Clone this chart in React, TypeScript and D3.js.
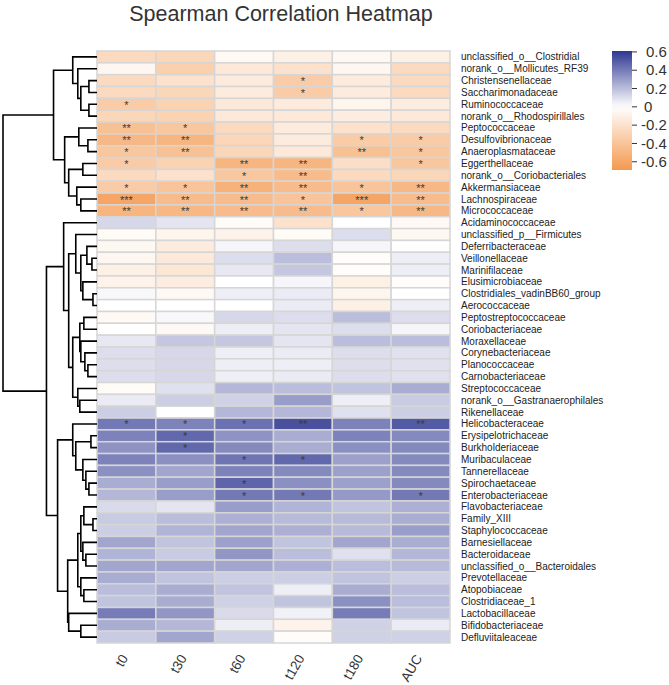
import React, { useEffect } from 'react';
import * as d3 from 'd3';

const columns = ['t0', 't30', 't60', 't120', 't180', 'AUC'];

const taxa = [
  'unclassified_o__Clostridial', 'norank_o__Mollicutes_RF39', 'Christensenellaceae',
  'Saccharimonadaceae', 'Ruminococcaceae', 'norank_o__Rhodospirillales', 'Peptococcaceae',
  'Desulfovibrionaceae', 'Anaeroplasmataceae', 'Eggerthellaceae', 'norank_o__Coriobacteriales',
  'Akkermansiaceae', 'Lachnospiraceae', 'Micrococcaceae', 'Acidaminococcaceae',
  'unclassified_p__Firmicutes', 'Deferribacteraceae', 'Veillonellaceae', 'Marinifilaceae',
  'Elusimicrobiaceae', 'Clostridiales_vadinBB60_group', 'Aerococcaceae', 'Peptostreptococcaceae',
  'Coriobacteriaceae', 'Moraxellaceae', 'Corynebacteriaceae', 'Planococcaceae',
  'Carnobacteriaceae', 'Streptococcaceae', 'norank_o__Gastranaerophilales', 'Rikenellaceae',
  'Helicobacteraceae', 'Erysipelotrichaceae', 'Burkholderiaceae', 'Muribaculaceae',
  'Tannerellaceae', 'Spirochaetaceae', 'Enterobacteriaceae', 'Flavobacteriaceae',
  'Family_XIII', 'Staphylococcaceae', 'Barnesiellaceae', 'Bacteroidaceae',
  'unclassified_o__Bacteroidales', 'Prevotellaceae', 'Atopobiaceae', 'Clostridiaceae_1',
  'Lactobacillaceae', 'Bifidobacteriaceae', 'Defluviitaleaceae',
];

// spearman rho, one row per taxon, columns t0..AUC
const rho = [
  [-0.25, -0.27, -0.04, -0.1, -0.05, -0.1],
  [-0.06, -0.32, -0.15, -0.2, -0.06, -0.25],
  [-0.25, -0.2, -0.13, -0.35, -0.13, -0.25],
  [-0.25, -0.27, -0.13, -0.35, -0.13, -0.25],
  [-0.35, -0.3, -0.15, -0.13, -0.07, -0.12],
  [-0.27, -0.3, -0.15, -0.15, -0.12, -0.15],
  [-0.42, -0.38, -0.25, -0.13, -0.2, -0.25],
  [-0.48, -0.5, -0.28, -0.13, -0.35, -0.35],
  [-0.38, -0.42, -0.27, -0.15, -0.42, -0.38],
  [-0.35, -0.3, -0.5, -0.5, -0.22, -0.38],
  [-0.25, -0.2, -0.38, -0.45, -0.25, -0.27],
  [-0.35, -0.4, -0.52, -0.45, -0.4, -0.48],
  [-0.6, -0.45, -0.45, -0.4, -0.6, -0.45],
  [-0.5, -0.48, -0.45, -0.45, -0.38, -0.48],
  [0.12, 0.08, -0.03, -0.2, 0.0, -0.04],
  [-0.03, -0.07, -0.08, -0.03, 0.1, -0.05],
  [-0.05, -0.13, 0.03, 0.1, 0.03, 0.0],
  [-0.06, -0.15, 0.1, 0.2, -0.02, 0.05],
  [-0.1, -0.17, 0.07, 0.17, -0.02, 0.05],
  [-0.08, -0.12, 0.0, 0.03, -0.1, -0.02],
  [0.02, -0.04, 0.05, 0.06, -0.07, 0.0],
  [0.0, 0.0, 0.0, 0.06, -0.1, 0.05],
  [-0.04, 0.02, 0.12, 0.1, 0.2, 0.1],
  [0.0, -0.04, 0.05, 0.08, 0.1, 0.03],
  [0.07, 0.17, 0.17, 0.08, 0.2, 0.2],
  [0.1, 0.12, 0.05, 0.06, 0.1, 0.09],
  [0.1, 0.12, 0.05, 0.05, 0.1, 0.09],
  [0.1, 0.12, 0.05, 0.06, 0.1, 0.09],
  [-0.03, 0.09, 0.22, 0.2, 0.18, 0.25],
  [0.06, 0.15, 0.14, 0.3, 0.05, 0.16],
  [0.15, 0.0, 0.22, 0.22, 0.09, 0.15],
  [0.41, 0.38, 0.43, 0.53, 0.38, 0.5],
  [0.38, 0.46, 0.33, 0.25, 0.38, 0.36],
  [0.33, 0.46, 0.36, 0.25, 0.34, 0.36],
  [0.38, 0.34, 0.42, 0.46, 0.29, 0.36],
  [0.34, 0.27, 0.38, 0.36, 0.29, 0.36],
  [0.25, 0.3, 0.47, 0.34, 0.29, 0.36],
  [0.22, 0.3, 0.41, 0.41, 0.31, 0.41],
  [0.11, 0.08, 0.3, 0.23, 0.18, 0.24],
  [0.16, 0.2, 0.24, 0.21, 0.21, 0.25],
  [0.15, 0.23, 0.27, 0.24, 0.21, 0.3],
  [0.27, 0.18, 0.29, 0.18, 0.27, 0.25],
  [0.23, 0.16, 0.32, 0.2, 0.09, 0.22],
  [0.27, 0.27, 0.27, 0.24, 0.2, 0.21],
  [0.25, 0.18, 0.15, 0.15, 0.18, 0.15],
  [0.2, 0.25, 0.18, 0.05, 0.25, 0.2],
  [0.18, 0.25, 0.14, 0.18, 0.34, 0.2],
  [0.4, 0.32, 0.11, 0.04, 0.4, 0.18],
  [0.25, 0.22, 0.05, -0.08, 0.14, 0.06],
  [0.16, 0.27, 0.14, -0.02, 0.14, 0.14],
];

// significance marks, same layout as rho
const stars = [
  ['', '', '', '', '', ''],
  ['', '', '', '', '', ''],
  ['', '', '', '*', '', ''],
  ['', '', '', '*', '', ''],
  ['*', '', '', '', '', ''],
  ['', '', '', '', '', ''],
  ['**', '*', '', '', '', ''],
  ['**', '**', '', '', '*', '*'],
  ['*', '**', '', '', '**', '*'],
  ['*', '', '**', '**', '', '*'],
  ['', '', '*', '**', '', ''],
  ['*', '*', '**', '**', '*', '**'],
  ['***', '**', '**', '*', '***', '**'],
  ['**', '**', '**', '**', '*', '**'],
  ...Array.from({ length: 17 }, () => ['', '', '', '', '', '']),
  ['*', '*', '*', '**', '', '**'],
  ['', '*', '', '', '', ''],
  ['', '*', '', '', '', ''],
  ['', '', '*', '*', '', ''],
  ['', '', '', '', '', ''],
  ['', '', '*', '', '', ''],
  ['', '', '*', '*', '', '*'],
  ...Array.from({ length: 12 }, () => ['', '', '', '', '', '']),
];

// row dendrogram: n(height, left, right), leaves are row indices
const n = (h: number, a: any, b: any) => ({ h, c: [a, b] });
const dendro = n(93,
  n(43,
    n(24, 0, n(19, 1, n(16, n(8, 2, 3), n(8, 4, 5)))),
    n(32, n(18, 6, n(9, 7, 8)), n(28, n(14, 9, 10), n(20, 11, n(16, 12, 13))))),
  n(50,
    n(33, 14, n(28,
      n(21, 15, n(16, n(10, 16, n(5, 17, 18)), n(14, 19, n(4, 20, 21)))),
      n(24, n(17, n(13, 22, 23), n(16, 24, n(12, 25, n(9, 26, 27)))), n(19, 28, n(17, 29, 30))))),
    n(39,
      n(24, 31, n(21, n(6, 32, 33), n(14, 34, n(11, 35, n(8, 36, 37))))),
      n(29,
        n(19, n(16, n(13, 38, n(4, 39, 40)), n(14, 41, n(11, 42, 43))), n(16, 44, n(13, 45, 46))),
        n(28, 47, n(16, 48, 49))))));

const legendTicks = [0.6, 0.4, 0.2, 0, -0.2, -0.4, -0.6];

const W = 669, H = 685;
const heat = { left: 97, right: 450, top: 51, bottom: 643 };
const font = "'Liberation Sans', Arial, sans-serif";

export default function App() {
  useEffect(() => {
    document.body.style.margin = '0';
  }, []);

  const x = d3.scaleBand().domain(columns).range([heat.left, heat.right]);
  const y = d3.scaleBand().domain(taxa.map((_, i) => String(i))).range([heat.top, heat.bottom]);
  const color = d3.scaleLinear<string>()
    .domain([-0.69, 0, 0.61])
    .range(['#f4994f', '#ffffff', '#2e3791']);

  // dendrogram layout
  const hx = d3.scaleLinear().domain([0, 93]).range([heat.left, 3]);
  const root = d3.hierarchy<any>(dendro, (d) => (typeof d === 'number' ? null : d.c));
  root.eachAfter((d: any) => {
    if (d.children) {
      d.py = (d.children[0].py + d.children[1].py) / 2;
      d.px = hx(d.data.h);
    } else {
      d.py = (y(String(d.data)) as number) + y.bandwidth() / 2;
      d.px = hx(0);
    }
  });
  const links: string[] = [];
  root.each((d: any) => {
    if (!d.children) return;
    const [a, b] = d.children;
    links.push(`M${a.px},${a.py}H${d.px}V${b.py}H${b.px}`);
  });

  const ly = d3.scaleLinear().domain([-0.69, 0.61]).range([170, 51]);
  const gradStops = d3.range(0, 1.001, 0.05).map((t) => ({
    t,
    c: color(-0.69 + t * 1.3),
  }));

  return (
    <svg width={W} height={H} style={{ display: 'block' }} fontFamily={font}>
      <rect width={W} height={H} fill="#fff" />
      <text x={281} y={21} textAnchor="middle" fontSize={21.5} fill="#333">
        Spearman Correlation Heatmap
      </text>

      <g>
        {rho.map((row, i) =>
          row.map((v, j) => (
            <rect key={`${i}-${j}`} x={x(columns[j])} y={y(String(i))}
              width={x.bandwidth()} height={y.bandwidth()}
              fill={color(v)} stroke="#d6d6d6" strokeWidth={1.5} />
          ))
        )}
        {stars.map((row, i) =>
          row.map((s, j) => s ? (
            <text key={`s${i}-${j}`} x={(x(columns[j]) as number) + x.bandwidth() / 2}
              y={(y(String(i)) as number) + y.bandwidth() / 2 + 4.5}
              textAnchor="middle" fontSize={11} fill="#3a3a3a">{s}</text>
          ) : null)
        )}
      </g>

      <g fill="none" stroke="#000" strokeWidth={1.6}>
        {links.map((d, i) => <path key={i} d={d} />)}
      </g>

      <g fontSize={10} fill="#222">
        {taxa.map((t, i) => (
          <text key={t} x={heat.right + 11} y={(y(String(i)) as number) + y.bandwidth() / 2}
            dy="0.35em">{t}</text>
        ))}
      </g>

      <g fontSize={13.5} fill="#333">
        {columns.map((c) => (
          <text key={c} textAnchor="end"
            transform={`translate(${(x(c) as number) + x.bandwidth() / 2 + 2},${heat.bottom + 15}) rotate(-60)`}>
            {c}
          </text>
        ))}
      </g>

      <defs>
        <linearGradient id="lg" x1="0" y1="1" x2="0" y2="0">
          {gradStops.map((s) => (
            <stop key={s.t} offset={s.t} stopColor={s.c} />
          ))}
        </linearGradient>
      </defs>
      <rect x={612} y={51} width={20} height={119} fill="url(#lg)" />
      <g fontSize={15} fill="#333">
        {legendTicks.map((t) => (
          <g key={t}>
            <line x1={632} x2={637} y1={ly(t)} y2={ly(t)} stroke="#333" strokeWidth={1} />
            <text x={t > 0 ? 646 : t === 0 ? 644 : 641} y={ly(t)} dy="0.35em">{String(t)}</text>
          </g>
        ))}
      </g>
    </svg>
  );
}
